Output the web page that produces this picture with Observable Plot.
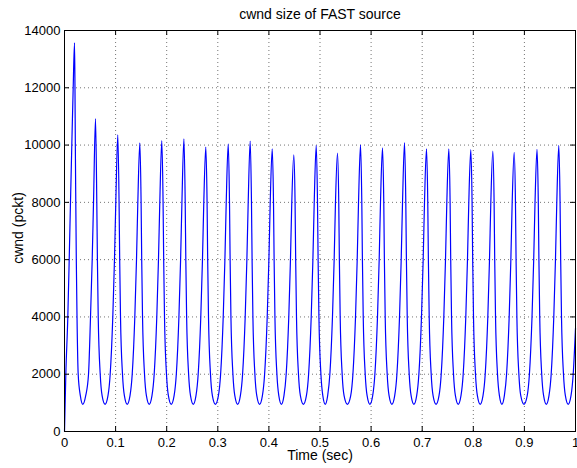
<!DOCTYPE html>
<html>
<head>
<meta charset="utf-8">
<script src="https://cdn.jsdelivr.net/npm/d3@7"></script>
<script src="https://cdn.jsdelivr.net/npm/@observablehq/plot@0.6"></script>
<style>
  html, body { margin: 0; padding: 0; background: #fff; }
  #chart { width: 577px; height: 468px; }
</style>
</head>
<body>
<div id="chart"></div>
<script>
const titleText = "cwnd size of FAST source";
const xLabelText = "Time (sec)";
const yLabelText = "cwnd (pckt)";

const xTicks = [0, 0.1, 0.2, 0.3, 0.4, 0.5, 0.6, 0.7, 0.8, 0.9, 1];
const xTickLabels = ["0", "0.1", "0.2", "0.3", "0.4", "0.5", "0.6", "0.7", "0.8", "0.9", "1"];
const yTicks = [0, 2000, 4000, 6000, 8000, 10000, 12000, 14000];
const yTickLabels = ["0", "2000", "4000", "6000", "8000", "10000", "12000", "14000"];

// time (sec), one row per oscillation
const timeSec = [
  0, 0.0026, 0.0065, 0.0092, 0.0117, 0.0143, 0.0170, 0.0196,
  0.0205, 0.0212, 0.0221, 0.0231, 0.0245, 0.0268, 0.0310, 0.0358, 0.0415, 0.0470, 0.0509, 0.0542, 0.0568, 0.0607,
  0.0632, 0.0644, 0.0660, 0.0699, 0.0736, 0.0794, 0.0851, 0.0894, 0.0945, 0.0978, 0.1004, 0.1043,
  0.1068, 0.1080, 0.1096, 0.1135, 0.1172, 0.1227, 0.1282, 0.1325, 0.1376, 0.1409, 0.1435, 0.1474,
  0.1499, 0.1511, 0.1527, 0.1566, 0.1603, 0.1658, 0.1712, 0.1755, 0.1806, 0.1839, 0.1865, 0.1904,
  0.1929, 0.1941, 0.1957, 0.1996, 0.2033, 0.2089, 0.2145, 0.2188, 0.2239, 0.2272, 0.2298, 0.2337,
  0.2362, 0.2374, 0.2390, 0.2429, 0.2466, 0.2520, 0.2573, 0.2616, 0.2667, 0.2700, 0.2726, 0.2765,
  0.2790, 0.2802, 0.2818, 0.2857, 0.2894, 0.2953, 0.3012, 0.3055, 0.3106, 0.3139, 0.3165, 0.3204,
  0.3229, 0.3241, 0.3257, 0.3296, 0.3333, 0.3388, 0.3442, 0.3485, 0.3536, 0.3569, 0.3595, 0.3634,
  0.3659, 0.3671, 0.3687, 0.3726, 0.3763, 0.3818, 0.3873, 0.3916, 0.3967, 0.4000, 0.4026, 0.4065,
  0.4090, 0.4102, 0.4118, 0.4157, 0.4194, 0.4245, 0.4295, 0.4338, 0.4389, 0.4422, 0.4448, 0.4487,
  0.4512, 0.4524, 0.4540, 0.4579, 0.4616, 0.4675, 0.4734, 0.4777, 0.4828, 0.4861, 0.4887, 0.4926,
  0.4951, 0.4963, 0.4979, 0.5018, 0.5055, 0.5103, 0.5150, 0.5193, 0.5244, 0.5277, 0.5303, 0.5342,
  0.5367, 0.5379, 0.5395, 0.5434, 0.5471, 0.5536, 0.5601, 0.5644, 0.5695, 0.5728, 0.5754, 0.5793,
  0.5818, 0.5830, 0.5846, 0.5885, 0.5922, 0.5977, 0.6031, 0.6074, 0.6125, 0.6158, 0.6184, 0.6223,
  0.6248, 0.6260, 0.6276, 0.6315, 0.6352, 0.6407, 0.6462, 0.6505, 0.6556, 0.6589, 0.6615, 0.6654,
  0.6679, 0.6691, 0.6707, 0.6746, 0.6783, 0.6838, 0.6892, 0.6935, 0.6986, 0.7019, 0.7045, 0.7084,
  0.7109, 0.7121, 0.7137, 0.7176, 0.7213, 0.7271, 0.7329, 0.7372, 0.7423, 0.7456, 0.7482, 0.7521,
  0.7546, 0.7558, 0.7574, 0.7613, 0.7650, 0.7705, 0.7759, 0.7802, 0.7853, 0.7886, 0.7912, 0.7951,
  0.7976, 0.7988, 0.8004, 0.8043, 0.8080, 0.8135, 0.8190, 0.8233, 0.8284, 0.8317, 0.8343, 0.8382,
  0.8407, 0.8419, 0.8435, 0.8474, 0.8511, 0.8560, 0.8608, 0.8651, 0.8702, 0.8735, 0.8761, 0.8800,
  0.8825, 0.8837, 0.8853, 0.8892, 0.8929, 0.8992, 0.9055, 0.9098, 0.9149, 0.9182, 0.9208, 0.9247,
  0.9272, 0.9284, 0.9300, 0.9339, 0.9376, 0.9429, 0.9481, 0.9524, 0.9575, 0.9608, 0.9634, 0.9673,
  0.9698, 0.9710, 0.9726, 0.9765, 0.9802, 0.9857, 0.9912, 0.9955, 1.0
];

// cwnd (packets) at those times
const cwndPckt = [
  0, 2000, 4000, 6000, 8000, 10000, 12000, 13570,
  12000, 10000, 8000, 6000, 4000, 2000, 1250, 950, 1250, 2000, 4000, 6000, 8000, 10920,
  8000, 6000, 4000, 2000, 1250, 950, 1250, 2000, 4000, 6000, 8000, 10360,
  8000, 6000, 4000, 2000, 1250, 950, 1250, 2000, 4000, 6000, 8000, 10080,
  8000, 6000, 4000, 2000, 1250, 950, 1250, 2000, 4000, 6000, 8000, 10160,
  8000, 6000, 4000, 2000, 1250, 950, 1250, 2000, 4000, 6000, 8000, 10220,
  8000, 6000, 4000, 2000, 1250, 950, 1250, 2000, 4000, 6000, 8000, 9930,
  8000, 6000, 4000, 2000, 1250, 950, 1250, 2000, 4000, 6000, 8000, 10040,
  8000, 6000, 4000, 2000, 1250, 950, 1250, 2000, 4000, 6000, 8000, 10140,
  8000, 6000, 4000, 2000, 1250, 950, 1250, 2000, 4000, 6000, 8000, 9870,
  8000, 6000, 4000, 2000, 1250, 950, 1250, 2000, 4000, 6000, 8000, 9660,
  8000, 6000, 4000, 2000, 1250, 950, 1250, 2000, 4000, 6000, 8000, 9990,
  8000, 6000, 4000, 2000, 1250, 950, 1250, 2000, 4000, 6000, 8000, 9720,
  8000, 6000, 4000, 2000, 1250, 950, 1250, 2000, 4000, 6000, 8000, 10010,
  8000, 6000, 4000, 2000, 1250, 950, 1250, 2000, 4000, 6000, 8000, 9900,
  8000, 6000, 4000, 2000, 1250, 950, 1250, 2000, 4000, 6000, 8000, 10090,
  8000, 6000, 4000, 2000, 1250, 950, 1250, 2000, 4000, 6000, 8000, 9870,
  8000, 6000, 4000, 2000, 1250, 950, 1250, 2000, 4000, 6000, 8000, 9870,
  8000, 6000, 4000, 2000, 1250, 950, 1250, 2000, 4000, 6000, 8000, 9840,
  8000, 6000, 4000, 2000, 1250, 950, 1250, 2000, 4000, 6000, 8000, 9790,
  8000, 6000, 4000, 2000, 1250, 950, 1250, 2000, 4000, 6000, 8000, 9750,
  8000, 6000, 4000, 2000, 1250, 950, 1250, 2000, 4000, 6000, 8000, 9850,
  8000, 6000, 4000, 2000, 1250, 950, 1250, 2000, 4000, 6000, 8000, 9990,
  8000, 6000, 4000, 2000, 1250, 950, 1250, 2000, 3600
];

const data = timeSec.map((t, i) => ({t, v: cwndPckt[i]}));
const gridX = xTicks.slice(1, -1);
const gridY = yTicks.slice(1, -1);

const W = 577, H = 468;
const mL = 64, mR = 2, mT = 30, mB = 37;
const fw = W - mL - mR, fh = H - mT - mB;
const tickLen = 5;

const chart = Plot.plot({
  width: W,
  height: H,
  marginLeft: mL,
  marginRight: mR,
  marginTop: mT,
  marginBottom: mB,
  style: {fontFamily: "'Liberation Sans', Arial, Helvetica, sans-serif", fontSize: "13px", background: "#fff", color: "#000"},
  x: {domain: [0, 1], label: null},
  y: {domain: [0, 14000], label: null},
  marks: [
    Plot.ruleX(gridX, {x: d => d, stroke: "#000", strokeOpacity: 0.55, strokeDasharray: "1,3"}),
    Plot.ruleY(gridY, {y: d => d, stroke: "#000", strokeOpacity: 0.55, strokeDasharray: "1,3"}),
    Plot.line(data, {x: "t", y: "v", stroke: "#0000ff", strokeWidth: 1.2, curve: "monotone-x"}),
    Plot.frame({stroke: "#000", strokeWidth: 1}),
    Plot.tickX(xTicks, {x: d => d, insetTop: fh - tickLen, stroke: "#000"}),
    Plot.tickX(xTicks, {x: d => d, insetBottom: fh - tickLen, stroke: "#000"}),
    Plot.tickY(yTicks, {y: d => d, insetRight: fw - tickLen, stroke: "#000"}),
    Plot.tickY(yTicks, {y: d => d, insetLeft: fw - tickLen, stroke: "#000"}),
    Plot.axisX(xTicks, {anchor: "bottom", tickSize: 0, tickPadding: 6, tickFormat: (d, i) => xTickLabels[i], label: null}),
    Plot.axisY(yTicks, {anchor: "left", tickSize: 0, tickPadding: 4, tickFormat: (d, i) => yTickLabels[i], label: null}),
    Plot.text([titleText], {frameAnchor: "top", lineAnchor: "middle", textAnchor: "middle", dy: -16, fontSize: 14, fill: "#000"}),
    Plot.text([xLabelText], {frameAnchor: "bottom", lineAnchor: "middle", textAnchor: "middle", dy: 24, fontSize: 14, fill: "#000"}),
    Plot.text([yLabelText], {frameAnchor: "left", lineAnchor: "middle", textAnchor: "middle", dx: -46, dy: -3, rotate: -90, fontSize: 14, fill: "#000"})
  ]
});
document.getElementById("chart").appendChild(chart);
</script>
</body>
</html>
